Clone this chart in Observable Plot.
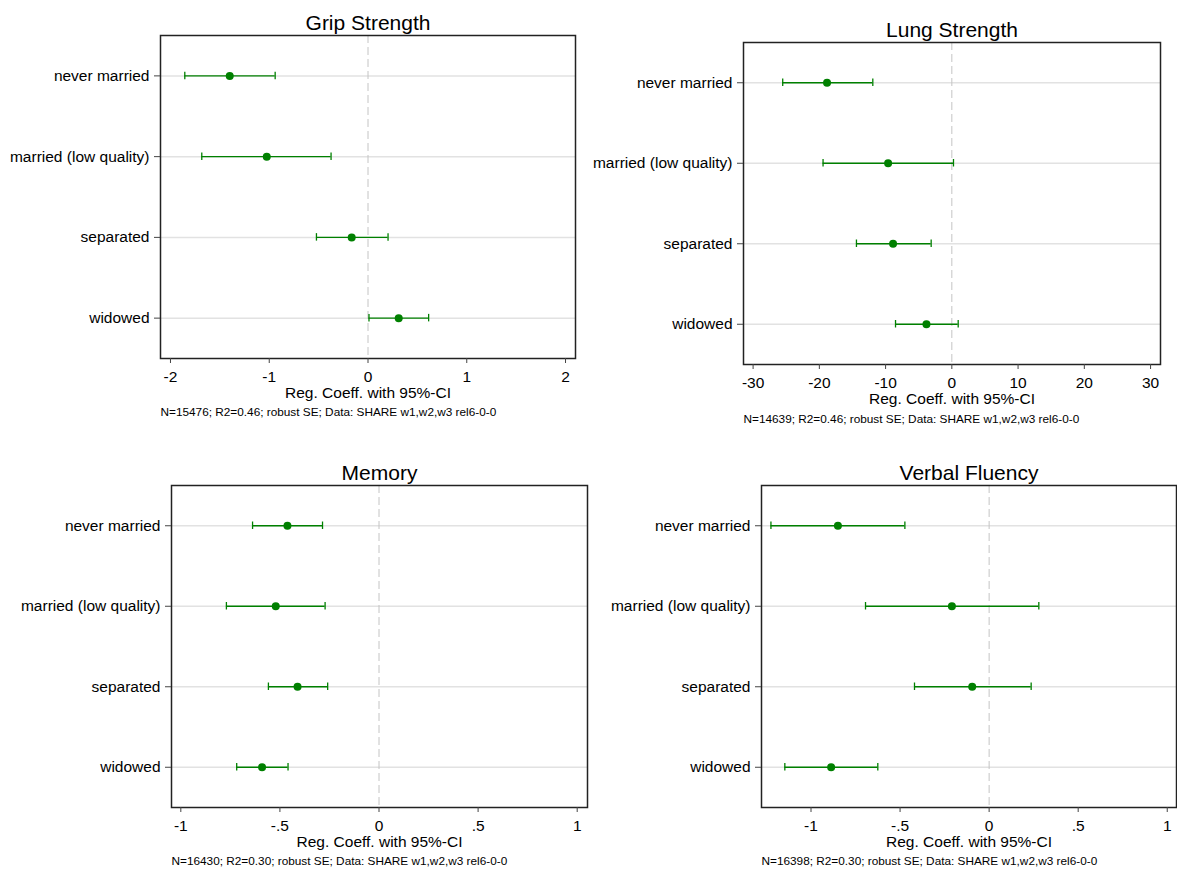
<!DOCTYPE html>
<html><head><meta charset="utf-8">
<script src="https://cdn.jsdelivr.net/npm/d3@7"></script>
<script src="https://cdn.jsdelivr.net/npm/@observablehq/plot@0.6"></script>
<style>
body{margin:0;background:#fff;font-family:Arial,"Liberation Sans",sans-serif;color:#000}
#root{position:relative;width:1177px;height:869px;overflow:hidden;background:#fff}
.panel{position:absolute}
</style></head><body><div id="root"></div>
<script>
// ---- data ----
const categories = ["never married", "married (low quality)", "separated", "widowed"];

const gripCoef = [-1.40, -1.025, -0.165, 0.311];
const gripLo   = [-1.855, -1.683, -0.522, 0.010];
const gripHi   = [-0.940, -0.374, 0.203, 0.614];
const gripTicks = [-2, -1, 0, 1, 2];
const gripNote = "N=15476; R2=0.46; robust SE; Data: SHARE w1,w2,w3 rel6-0-0";

const lungCoef = [-18.84, -9.62, -8.87, -3.83];
const lungLo   = [-25.53, -19.44, -14.40, -8.50];
const lungHi   = [-11.93, 0.25, -3.12, 0.96];
const lungTicks = [-30, -20, -10, 0, 10, 20, 30];
const lungNote = "N=14639; R2=0.46; robust SE; Data: SHARE w1,w2,w3 rel6-0-0";

const memCoef = [-0.462, -0.521, -0.411, -0.590];
const memLo   = [-0.638, -0.770, -0.558, -0.718];
const memHi   = [-0.285, -0.272, -0.259, -0.459];
const memTicks = [-1, -0.5, 0, 0.5, 1];
const memNote = "N=16430; R2=0.30; robust SE; Data: SHARE w1,w2,w3 rel6-0-0";

const verbCoef = [-0.849, -0.209, -0.095, -0.887];
const verbLo   = [-1.225, -0.694, -0.419, -1.147];
const verbHi   = [-0.473, 0.279, 0.236, -0.625];
const verbTicks = [-1, -0.5, 0, 0.5, 1];
const verbNote = "N=16398; R2=0.30; robust SE; Data: SHARE w1,w2,w3 rel6-0-0";

const titles = ["Grip Strength", "Lung Strength", "Memory", "Verbal Fluency"];
const xLabel = "Reg. Coeff. with 95%-CI";

// ---- layout ----
const green = "#008000";
const fmt = d => d === 0 ? "0" : String(d).replace(/^(-?)0\./, "$1.");

const panels = [
  {title: titles[0], coef: gripCoef, lo: gripLo, hi: gripHi, ticks: gripTicks, note: gripNote,
   domain: [-2.101, 2.101], left: 0, top: 0, width: 590, height: 430, mL: 160, mR: 15, mT: 35, mB: 72, noteDy: 57},
  {title: titles[1], coef: lungCoef, lo: lungLo, hi: lungHi, ticks: lungTicks, note: lungNote,
   domain: [-31.45, 31.5], left: 590, top: 0, width: 587, height: 430, mL: 153, mR: 17, mT: 42, mB: 66, noteDy: 58},
  {title: titles[2], coef: memCoef, lo: memLo, hi: memHi, ticks: memTicks, note: memNote,
   domain: [-1.047, 1.052], left: 0, top: 440, width: 600, height: 429, mL: 171, mR: 13, mT: 45, mB: 62, noteDy: 57},
  {title: titles[3], coef: verbCoef, lo: verbLo, hi: verbHi, ticks: verbTicks, note: verbNote,
   domain: [-1.278, 1.052], left: 600, top: 440, width: 577, height: 429, mL: 161, mR: 1, mT: 45, mB: 62, noteDy: 57}
];

const root = document.getElementById("root");
for (const p of panels) {
  const rows = categories.map((c, i) => ({cat: c, coef: p.coef[i], lo: p.lo[i], hi: p.hi[i]}));
  const frameH = p.height - p.mT - p.mB;
  const band = frameH / categories.length;
  const inset = (band - 7.5) / 2;
  const chart = Plot.plot({
    width: p.width, height: p.height,
    marginLeft: p.mL, marginRight: p.mR, marginTop: p.mT, marginBottom: p.mB,
    style: {fontFamily: "Arial, 'Liberation Sans', sans-serif", background: "white", color: "black", overflow: "visible"},
    x: {domain: p.domain},
    y: {type: "band", domain: categories, padding: 0, round: false},
    marks: [
      Plot.ruleY(categories, {y: d => d, stroke: "#e2e2e2", strokeWidth: 1.5}),
      Plot.ruleX([0], {stroke: "#c4c4c4", strokeWidth: 1, strokeDasharray: "8,4"}),
      Plot.ruleY(rows, {y: "cat", x1: "lo", x2: "hi", stroke: green, strokeWidth: 1.3}),
      Plot.tickX(rows, {x: "lo", y: "cat", insetTop: inset, insetBottom: inset, stroke: green, strokeWidth: 1.3}),
      Plot.tickX(rows, {x: "hi", y: "cat", insetTop: inset, insetBottom: inset, stroke: green, strokeWidth: 1.3}),
      Plot.dot(rows, {x: "coef", y: "cat", r: 4, fill: green, stroke: "none"}),
      Plot.frame({stroke: "#222", strokeWidth: 1.5}),
      Plot.axisY({tickSize: 6, tickPadding: 5, fontSize: 15.5, label: null, stroke: "#444", fill: "black"}),
      Plot.axisX({ticks: p.ticks, tickFormat: fmt, tickSize: 5, tickPadding: 7, fontSize: 15.5, label: null, stroke: "#444", fill: "black"}),
      Plot.text([p.title], {frameAnchor: "top", lineAnchor: "bottom", dy: -6, fontSize: 21, fill: "black"}),
      Plot.text([xLabel], {frameAnchor: "bottom", lineAnchor: "bottom", dy: 39, fontSize: 15.5, fill: "black"}),
      Plot.text([p.note], {frameAnchor: "bottom-left", textAnchor: "start", lineAnchor: "bottom", dx: 0, dy: p.noteDy, fontSize: 11.8, fill: "black"})
    ]
  });
  const div = document.createElement("div");
  div.className = "panel";
  div.style.left = p.left + "px";
  div.style.top = p.top + "px";
  div.appendChild(chart);
  root.appendChild(div);
}
</script>
</body></html>
